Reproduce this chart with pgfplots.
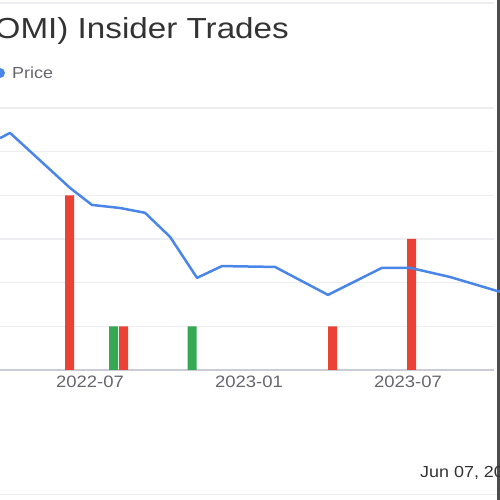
\documentclass[border=0pt]{standalone}
\usepackage{fontspec}
\setmainfont{Liberation Sans}
\usepackage{pgfplots}
\pgfplotsset{compat=1.18}

\definecolor{priceblue}{HTML}{4A86E8}
\definecolor{sellred}{HTML}{EA4335}
\definecolor{buygreen}{HTML}{34A853}
\definecolor{gridgray}{HTML}{EDEDF2}
\definecolor{axisgray}{HTML}{CBCBD6}
\definecolor{tickgray}{HTML}{66666E}
\definecolor{titlegray}{HTML}{333333}

\begin{document}
\begin{tikzpicture}[x=1pt,y=1pt]
\path[use as bounding box] (0,0) rectangle (500,500);
\clip (0,0) rectangle (500,500);
\fill[white] (0,0) rectangle (500,500);

% frame pieces that survive the crop
\draw[gridgray, line width=1.5pt] (0,497) -- (494,497);
\draw[gridgray, line width=1.2pt] (0,5.5) -- (497,5.5);
\draw[black!70, line width=3pt] (498.5,0) -- (498.5,500);

% title and legend
\node[anchor=base east, inner sep=0, xscale=1.145, text=titlegray,
      font=\fontsize{29}{34}\selectfont] at (289,461) {Owens \& Minor (OMI) Insider Trades};
\fill[priceblue] (0,427) circle (5);
\node[anchor=base west, inner sep=0, xscale=1.12, text=tickgray,
      font=\fontsize{16}{19}\selectfont] at (12,421) {Price};
\node[anchor=base west, inner sep=0, xscale=1.12, text=titlegray,
      font=\fontsize{16}{19}\selectfont] at (420,22) {Jun 07, 2024};

% trades (bars) on the grid axis
\begin{axis}[
    at={(-10pt,130pt)}, anchor=south west,
    scale only axis, width=504pt, height=262pt,
    xmin=2.226, xmax=21.245, ymin=0, ymax=6,
    axis line style={draw=none},
    major tick length=0pt,
    xtick={6,12,18},
    xticklabels={2022-07,2023-01,2023-07},
    xticklabel style={font=\fontsize{16.5}{18}\selectfont, text=tickgray, xscale=1.12, yshift=-2.5pt},
    ytick={1,2,3,4,5,6}, yticklabels={},
    ymajorgrids, grid style={draw=gridgray, line width=1.2pt},
    extra y ticks={0}, extra y tick labels={},
    extra y tick style={grid style={draw=axisgray, line width=1.3pt}},
  ]
  \addplot[ybar, bar width=9pt, bar shift=0pt, fill=sellred, draw=none]
    coordinates {(5.226,4) (7.264,1) (15.151,1) (18.132,3)};
  \addplot[ybar, bar width=9pt, bar shift=0pt, fill=buygreen, draw=none]
    coordinates {(6.887,1) (9.849,1)};
\end{axis}

% price line on its own hidden axis
\begin{axis}[
    at={(-10pt,130pt)}, anchor=south west,
    scale only axis, width=504pt, height=262pt,
    xmin=2.226, xmax=21.245, ymin=0, ymax=6,
    hide axis, clip=false,
  ]
  \addplot[priceblue, line width=2.5pt, line join=round] coordinates {
    (2.604,5.31) (2.981,5.43) (5.245,4.17) (6.075,3.78) (7.132,3.71)
    (8.075,3.60) (9.019,3.05) (10.038,2.11) (10.981,2.38) (12.981,2.36)
    (14.981,1.72) (17.019,2.34) (18.075,2.34) (19.585,2.13) (21.472,1.79)
  };
\end{axis}
\end{tikzpicture}
\end{document}
